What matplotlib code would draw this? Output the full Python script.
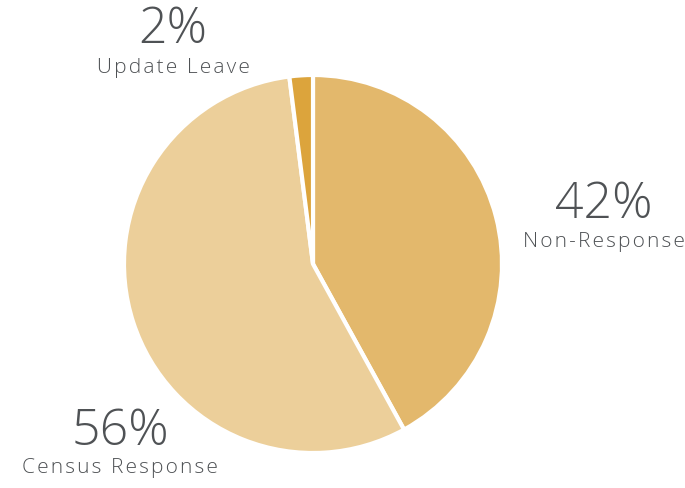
import matplotlib.pyplot as plt

labels = ["Non-Response", "Census Response", "Update Leave"]
shares = [42, 56, 2]
colors = ["#E3B86C", "#ECCF9A", "#DCA43C"]

W, H = 685, 489
fig = plt.figure(figsize=(W / 100, H / 100), dpi=100)

cx, cy, r = 313, 265, 189
ax = fig.add_axes([(cx - r) / W, (H - cy - r) / H, 2 * r / W, 2 * r / H])
ax.pie(shares, colors=colors, startangle=90, counterclock=False,
       wedgeprops=dict(edgecolor="white", linewidth=3), radius=1)
ax.set_xlim(-1, 1)
ax.set_ylim(-1, 1)
ax.set_aspect("equal")
ax.axis("off")

txt = "#4f5255"
fam = ["Open Sans", "DejaVu Sans"]
hair = "\u200a"
# (label index, x, y of pct, y of name)
spots = [(0, 604, 205, 242), (1, 120, 432, 468), (2, 173, 30, 68)]
for i, x, yp, yn in spots:
    fig.text(x / W, 1 - yp / H, f"{shares[i]}%", ha="center", va="center",
             fontsize=36, color=txt, family=fam, fontweight="light")
    fig.text(x / W, 1 - yn / H, hair.join(labels[i]), ha="center", va="center",
             fontsize=15, color=txt, family=fam, fontweight="light")

fig.savefig("out.png", dpi=100)
